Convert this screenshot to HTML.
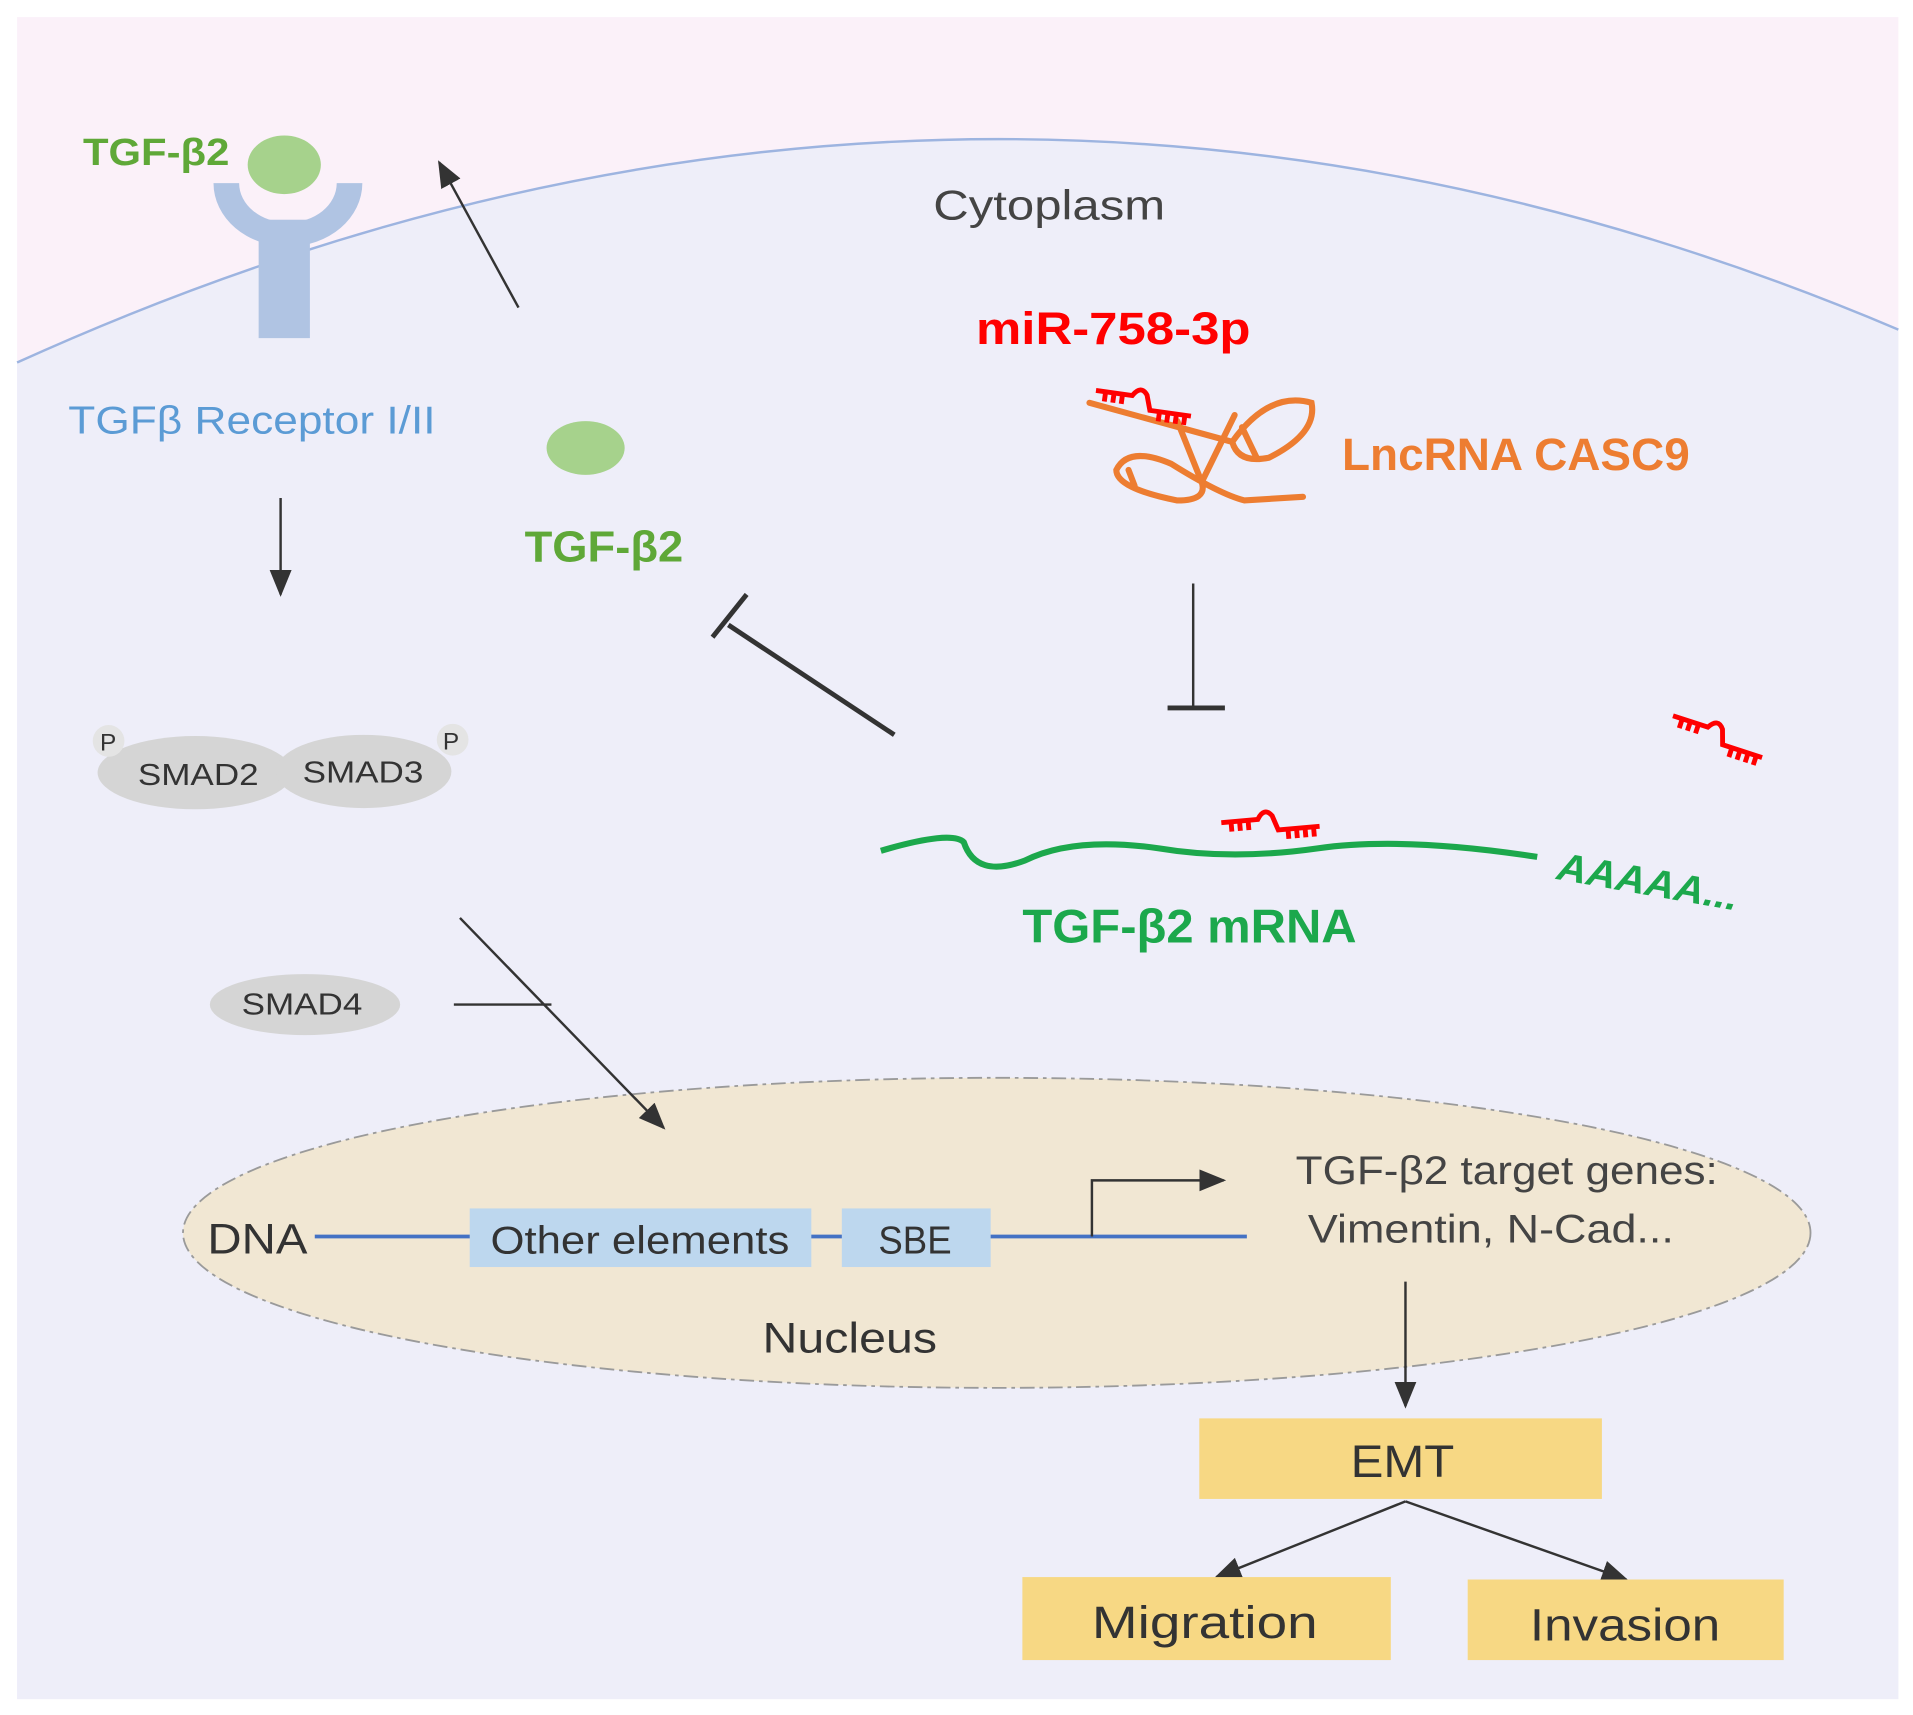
<!DOCTYPE html>
<html><head><meta charset="utf-8"><style>html,body{margin:0;padding:0;background:#fff}svg{display:block}text{font-family:"Liberation Sans",sans-serif}</style></head>
<body>
<svg width="1913" height="1715" viewBox="0 0 1568 1405" preserveAspectRatio="none" xmlns="http://www.w3.org/2000/svg">
<defs>
<marker id="ah2" markerWidth="22" markerHeight="18" refX="20" refY="9" orient="auto" markerUnits="userSpaceOnUse"><path d="M0,0 L22,9 L0,18 Z" fill="#333"/></marker>
<g id="mir" fill="none" stroke="#f00" stroke-width="4">
<path d="M0,12 L30,12 Q36,2 42,10 L46,22 L80,22"/>
<path d="M8,12v8M15,12v8M22,12v8M54,22v8M61,22v8M68,22v8M75,22v8"/>
</g>
</defs>
<rect x="0" y="0" width="1568" height="1405" fill="#fff"/>
<rect x="14" y="14" width="1542" height="1378" fill="#fbf1f9"/>
<path d="M14,297 Q790,-55 1556,270 L1556,1392 L14,1392 Z" fill="#eeeef9"/>
<path d="M14,297 Q790,-55 1556,270" fill="none" stroke="#9db4e0" stroke-width="2"/>

<rect x="212" y="180" width="42" height="97" fill="#b0c4e3"/>
<path d="M175,150 L196,150 A37,30 0 0 0 276,150 L297,150 A61,52 0 0 1 175,150 Z" fill="#b0c4e3"/>
<ellipse cx="233" cy="135" rx="30" ry="24" fill="#a6d28c"/>
<text x="68" y="135" font-size="31" font-weight="bold" fill="#5fa838" textLength="120" lengthAdjust="spacingAndGlyphs">TGF-β2</text>
<text x="56" y="355" font-size="32" fill="#5b9bd5" textLength="301" lengthAdjust="spacingAndGlyphs">TGFβ Receptor I/II</text>
<line x1="425" y1="252" x2="360" y2="133" stroke="#333" stroke-width="2" marker-end="url(#ah2)"/>
<text x="765" y="180" font-size="34" fill="#444" textLength="190" lengthAdjust="spacingAndGlyphs">Cytoplasm</text>

<ellipse cx="480" cy="367" rx="32" ry="22" fill="#a6d28c"/>
<text x="430" y="460" font-size="36" font-weight="bold" fill="#5fa838" textLength="130" lengthAdjust="spacingAndGlyphs">TGF-β2</text>
<line x1="230" y1="408" x2="230" y2="487" stroke="#333" stroke-width="2" marker-end="url(#ah2)"/>

<line x1="733" y1="602" x2="597" y2="512" stroke="#333" stroke-width="4"/>
<line x1="584" y1="522" x2="612" y2="487" stroke="#333" stroke-width="4"/>

<ellipse cx="160" cy="633" rx="80" ry="30" fill="#d5d5d5"/>
<ellipse cx="298" cy="632" rx="72" ry="30" fill="#d5d5d5"/>
<circle cx="89" cy="607" r="13" fill="#e4e4e4"/>
<circle cx="371" cy="606" r="13" fill="#e4e4e4"/>
<text x="82" y="615" font-size="20" fill="#333">P</text>
<text x="363" y="614" font-size="20" fill="#333">P</text>
<text x="113" y="643" font-size="25" fill="#333" textLength="99" lengthAdjust="spacingAndGlyphs">SMAD2</text>
<text x="248" y="641" font-size="25" fill="#333" textLength="99" lengthAdjust="spacingAndGlyphs">SMAD3</text>
<ellipse cx="250" cy="823" rx="78" ry="25" fill="#d5d5d5"/>
<text x="198" y="831" font-size="25" fill="#333" textLength="99" lengthAdjust="spacingAndGlyphs">SMAD4</text>
<line x1="372" y1="823" x2="452" y2="823" stroke="#333" stroke-width="2"/>

<text x="800" y="282" font-size="37" font-weight="bold" fill="#f00" textLength="225" lengthAdjust="spacingAndGlyphs">miR-758-3p</text>
<text x="1100" y="385" font-size="37" font-weight="bold" fill="#ed7d31" textLength="285" lengthAdjust="spacingAndGlyphs">LncRNA CASC9</text>
<g fill="none" stroke="#ed7d31" stroke-width="5" stroke-linecap="round">
<path d="M893,330 L1010,362"/>
<path d="M1010,362 Q1040,320 1075,330 Q1080,355 1040,375 Q1015,380 1010,362"/>
<path d="M1018,350 L1030,375"/>
<path d="M965,345 L985,395 Q990,410 965,410 Q915,400 915,385 Q925,365 960,380 Q1000,405 1020,410 L1068,407"/>
<path d="M985,395 L1012,340"/>
<path d="M925,385 L930,398"/>
</g>
<use href="#mir" transform="translate(900,308) rotate(8)"/>

<line x1="978" y1="478" x2="978" y2="578" stroke="#333" stroke-width="2"/>
<line x1="957" y1="580" x2="1004" y2="580" stroke="#333" stroke-width="4"/>
<use href="#mir" transform="translate(1375,575) rotate(18)"/>

<path d="M722,697 Q780,680 790,690 Q800,720 840,705 Q880,685 950,695 Q1010,705 1080,695 Q1150,685 1260,702" fill="none" stroke="#1ca84c" stroke-width="5"/>
<use href="#mir" transform="translate(1000,662) rotate(-5)"/>
<text transform="translate(1275,720) rotate(10)" font-size="32" font-weight="bold" font-style="italic" fill="#1ca84c" textLength="150" lengthAdjust="spacingAndGlyphs">AAAAA...</text>
<text x="838" y="772" font-size="39" font-weight="bold" fill="#1ca84c" textLength="274" lengthAdjust="spacingAndGlyphs">TGF-β2 mRNA</text>

<ellipse cx="817" cy="1010" rx="667" ry="127" fill="#f1e7d3" stroke="#9a9a9a" stroke-width="1.5" stroke-dasharray="12,4,3,4"/>
<line x1="377" y1="752" x2="544" y2="924" stroke="#333" stroke-width="2" marker-end="url(#ah2)"/>
<text x="170" y="1027" font-size="35" fill="#333" textLength="82" lengthAdjust="spacingAndGlyphs">DNA</text>
<line x1="258" y1="1013" x2="1022" y2="1013" stroke="#4472c4" stroke-width="3"/>
<rect x="385" y="990" width="280" height="48" fill="#bdd7ee"/>
<rect x="690" y="990" width="122" height="48" fill="#bdd7ee"/>
<text x="402" y="1027" font-size="32" fill="#333" textLength="245" lengthAdjust="spacingAndGlyphs">Other elements</text>
<text x="720" y="1027" font-size="32" fill="#333" textLength="60" lengthAdjust="spacingAndGlyphs">SBE</text>
<path d="M895,1013 L895,967 L1003,967" fill="none" stroke="#333" stroke-width="2" marker-end="url(#ah2)"/>
<text x="1062" y="970" font-size="33" fill="#444" textLength="346" lengthAdjust="spacingAndGlyphs">TGF-β2 target genes:</text>
<text x="1072" y="1018" font-size="33" fill="#444" textLength="300" lengthAdjust="spacingAndGlyphs">Vimentin, N-Cad...</text>
<text x="625" y="1108" font-size="35" fill="#333" textLength="143" lengthAdjust="spacingAndGlyphs">Nucleus</text>

<line x1="1152" y1="1050" x2="1152" y2="1152" stroke="#333" stroke-width="2" marker-end="url(#ah2)"/>
<rect x="983" y="1162" width="330" height="66" fill="#f7d884"/>
<text x="1107" y="1210" font-size="37" fill="#333" textLength="85" lengthAdjust="spacingAndGlyphs">EMT</text>
<line x1="1152" y1="1230" x2="997" y2="1292" stroke="#333" stroke-width="2" marker-end="url(#ah2)"/>
<line x1="1152" y1="1230" x2="1333" y2="1294" stroke="#333" stroke-width="2" marker-end="url(#ah2)"/>
<rect x="838" y="1292" width="302" height="68" fill="#f7d884"/>
<rect x="1203" y="1294" width="259" height="66" fill="#f7d884"/>
<text x="895" y="1342" font-size="37" fill="#333" textLength="185" lengthAdjust="spacingAndGlyphs">Migration</text>
<text x="1254" y="1344" font-size="37" fill="#333" textLength="156" lengthAdjust="spacingAndGlyphs">Invasion</text>
</svg>
</body></html>
